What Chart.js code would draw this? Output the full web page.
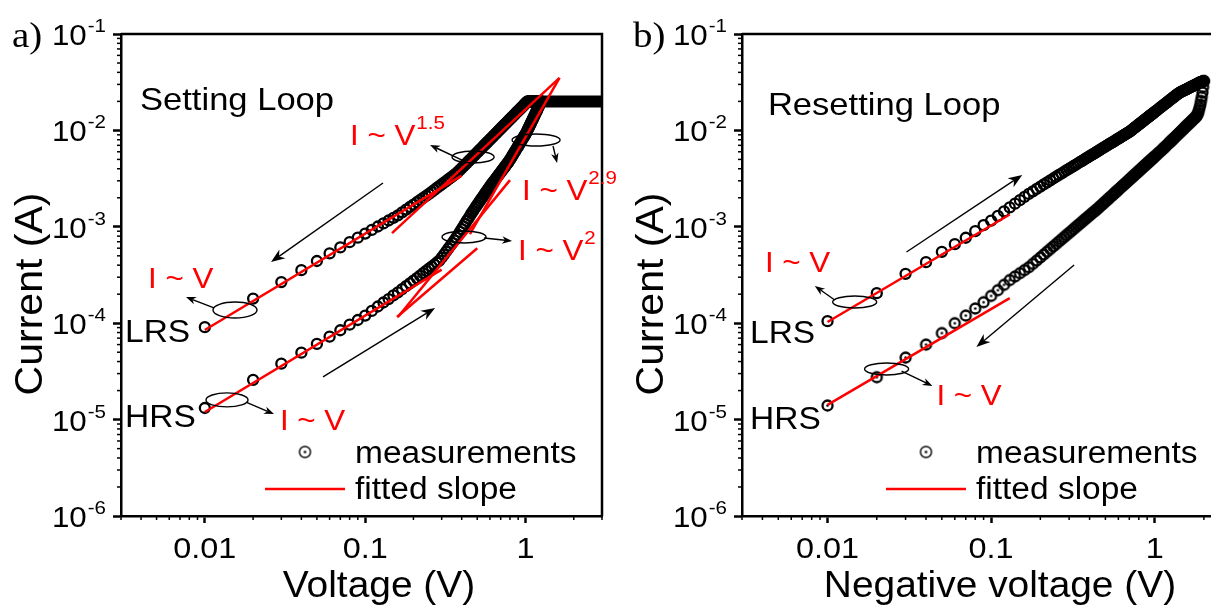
<!DOCTYPE html>
<html>
<head>
<meta charset="utf-8">
<script src="https://cdn.jsdelivr.net/npm/chart.js@4.4.1/dist/chart.umd.min.js"></script>
<style>
  html, body { margin: 0; padding: 0; background: #fff; overflow: hidden; }
  #wrap { position: relative; width: 1211px; height: 610px; overflow: hidden; }
  #panelA { position: absolute; left: 0; top: 0; }
  #panelB { position: absolute; left: 620px; top: 0; }
</style>
</head>
<body>
<div id="wrap">
  <canvas id="panelA" width="620" height="610"></canvas>
  <canvas id="panelB" width="620" height="610"></canvas>
</div>
<script>
// ---- data ----
// a) setting loop: sweep voltages (V) and currents (A)
const voltsA = [0.01,0.02,0.03,0.04,0.05,0.06,0.07,0.08,0.09,0.10,
  0.11,0.12,0.13,0.14,0.15,0.16,0.17,0.18,0.19,0.20,
  0.21,0.22,0.23,0.24,0.25,0.26,0.27,0.28,0.29,0.30,
  0.31,0.32,0.33,0.34,0.35,0.36,0.37,0.38,0.39,0.40,
  0.41,0.42,0.43,0.44,0.45,0.46,0.47,0.48,0.49,0.50,
  0.51,0.52,0.53,0.54,0.55,0.56,0.57,0.58,0.59,0.60,
  0.61,0.62,0.63,0.64,0.65,0.66,0.67,0.68,0.69,0.70,
  0.71,0.72,0.73,0.74,0.75,0.76,0.77,0.78,0.79,0.80,
  0.81,0.82,0.83,0.84,0.85,0.86,0.87,0.88,0.89,0.90,
  0.91,0.92,0.93,0.94,0.95,0.96,0.97,0.98,0.99,1.00,
  1.01,1.02,1.03,1.04,1.05,1.06,1.07,1.08,1.09,1.10,
  1.11,1.12,1.13,1.14,1.15,1.16,1.17,1.18,1.19,1.20,
  1.21,1.22,1.23,1.24,1.25];
const setHRS = [1.32e-5,2.58e-5,3.80e-5,4.95e-5,6.10e-5,7.25e-5,8.45e-5,9.65e-5,1.08e-4,1.20e-4,
  1.34e-4,1.49e-4,1.64e-4,1.78e-4,1.94e-4,2.09e-4,2.26e-4,2.42e-4,2.59e-4,2.77e-4,
  2.94e-4,3.12e-4,3.30e-4,3.49e-4,3.68e-4,3.87e-4,4.06e-4,4.26e-4,4.46e-4,4.78e-4,
  5.15e-4,5.54e-4,5.94e-4,6.36e-4,6.79e-4,7.24e-4,7.73e-4,8.26e-4,8.85e-4,9.47e-4,
  1.01e-3,1.08e-3,1.15e-3,1.22e-3,1.295e-3,1.375e-3,1.45e-3,1.53e-3,1.61e-3,1.69e-3,
  1.775e-3,1.86e-3,1.945e-3,2.03e-3,2.125e-3,2.22e-3,2.315e-3,2.41e-3,2.515e-3,2.62e-3,
  2.72e-3,2.82e-3,2.92e-3,3.02e-3,3.125e-3,3.23e-3,3.34e-3,3.45e-3,3.565e-3,3.68e-3,
  3.795e-3,3.91e-3,4.03e-3,4.15e-3,4.28e-3,4.41e-3,4.54e-3,4.67e-3,4.82e-3,4.97e-3,
  5.14e-3,5.32e-3,5.50e-3,5.68e-3,5.87e-3,6.06e-3,6.255e-3,6.45e-3,6.655e-3,6.86e-3,
  7.075e-3,7.29e-3,7.51e-3,7.73e-3,7.96e-3,8.19e-3,8.425e-3,8.66e-3,8.91e-3,9.16e-3,
  9.40e-3,9.73e-3,1.007e-2,1.041e-2,1.077e-2,1.113e-2,1.150e-2,1.188e-2,1.227e-2,1.267e-2,
  1.308e-2,1.350e-2,1.393e-2,1.436e-2,1.481e-2,1.527e-2,1.573e-2,1.621e-2,1.669e-2,1.718e-2,
  1.77e-2,1.83e-2,1.89e-2,1.95e-2,2.0e-2];
const setLRS = [9.1e-5,1.80e-4,2.67e-4,3.55e-4,4.42e-4,5.30e-4,6.11e-4,6.92e-4,7.71e-4,8.50e-4,
  9.29e-4,1.007e-3,1.085e-3,1.162e-3,1.239e-3,1.316e-3,1.413e-3,1.508e-3,1.604e-3,1.70e-3,
  1.798e-3,1.896e-3,1.995e-3,2.094e-3,2.193e-3,2.306e-3,2.416e-3,2.528e-3,2.64e-3,2.753e-3,
  2.866e-3,2.983e-3,3.098e-3,3.216e-3,3.333e-3,3.452e-3,3.588e-3,3.73e-3,3.894e-3,4.064e-3,
  4.234e-3,4.409e-3,4.585e-3,4.765e-3,4.946e-3,5.133e-3,5.32e-3,5.51e-3,5.706e-3,5.906e-3,
  6.106e-3,6.31e-3,6.516e-3,6.726e-3,6.936e-3,7.151e-3,7.368e-3,7.589e-3,7.81e-3,8.035e-3,
  8.26e-3,8.494e-3,8.73e-3,8.962e-3,9.20e-3,9.44e-3,9.685e-3,9.93e-3,1.018e-2,1.043e-2,
  1.069e-2,1.094e-2,1.12e-2,1.146e-2,1.172e-2,1.198e-2,1.225e-2,1.252e-2,1.28e-2,1.307e-2,
  1.335e-2,1.363e-2,1.391e-2,1.419e-2,1.448e-2,1.477e-2,1.506e-2,1.535e-2,1.565e-2,1.595e-2,
  1.625e-2,1.655e-2,1.686e-2,1.716e-2,1.747e-2,1.778e-2,1.81e-2,1.841e-2,1.874e-2,1.906e-2,
  1.94e-2,1.97e-2,2.0e-2,2.0e-2,2.0e-2,2.0e-2,2.0e-2,2.0e-2,2.0e-2,2.0e-2,
  2.0e-2,2.0e-2,2.0e-2,2.0e-2,2.0e-2,2.0e-2,2.0e-2,2.0e-2,2.0e-2,2.0e-2,
  2.0e-2,2.0e-2,2.0e-2,2.0e-2,2.0e-2];
// compliance current plateau
const complianceV = [1.05, 3.5];
const complianceI = [0.02, 0.02];

// b) resetting loop
const voltsB = [0.01,0.02,0.03,0.04,0.05,0.06,0.07,0.08,0.09,0.10,
  0.11,0.12,0.13,0.14,0.15,0.16,0.17,0.18,0.19,0.20,
  0.21,0.22,0.23,0.24,0.25,0.26,0.27,0.28,0.29,0.30,
  0.31,0.32,0.33,0.34,0.35,0.36,0.37,0.38,0.39,0.40,
  0.41,0.42,0.43,0.44,0.45,0.46,0.47,0.48,0.49,0.50,
  0.51,0.52,0.53,0.54,0.55,0.56,0.57,0.58,0.59,0.60,
  0.61,0.62,0.63,0.64,0.65,0.66,0.67,0.68,0.69,0.70,
  0.71,0.72,0.73,0.74,0.75,0.76,0.77,0.78,0.79,0.80,
  0.81,0.82,0.83,0.84,0.85,0.86,0.87,0.88,0.89,0.90,
  0.91,0.92,0.93,0.94,0.95,0.96,0.97,0.98,0.99,1.00,
  1.02,1.04,1.06,1.08,1.10,1.12,1.14,1.16,1.18,1.20,
  1.22,1.24,1.26,1.28,1.30,1.32,1.34,1.36,1.38,1.40,
  1.42,1.44,1.46,1.48,1.50,1.52,1.54,1.56,1.58,1.60,
  1.62,1.64,1.66,1.68,1.70,1.72,1.74,1.76,1.78,1.80,
  1.82,1.84,1.86,1.88,1.90,1.92,1.94,1.96,1.98,2.00];
const resetLRS = [1.05e-4,2.05e-4,3.25e-4,4.3e-4,5.5e-4,6.6e-4,7.7e-4,9.0e-4,1.04e-3,1.16e-3,
  1.30e-3,1.444e-3,1.589e-3,1.737e-3,1.887e-3,2.039e-3,2.193e-3,2.336e-3,2.474e-3,2.613e-3,
  2.751e-3,2.89e-3,3.029e-3,3.169e-3,3.309e-3,3.45e-3,3.59e-3,3.726e-3,3.865e-3,4.003e-3,
  4.142e-3,4.281e-3,4.42e-3,4.56e-3,4.70e-3,4.84e-3,4.98e-3,5.119e-3,5.26e-3,5.4e-3,
  5.54e-3,5.68e-3,5.821e-3,5.962e-3,6.103e-3,6.244e-3,6.386e-3,6.528e-3,6.669e-3,6.81e-3,
  6.952e-3,7.094e-3,7.236e-3,7.378e-3,7.52e-3,7.662e-3,7.804e-3,7.947e-3,8.09e-3,8.232e-3,
  8.375e-3,8.517e-3,8.66e-3,8.803e-3,8.946e-3,9.089e-3,9.233e-3,9.377e-3,9.516e-3,9.655e-3,
  9.84e-3,1.002e-2,1.021e-2,1.04e-2,1.059e-2,1.077e-2,1.096e-2,1.115e-2,1.134e-2,1.153e-2,
  1.173e-2,1.192e-2,1.211e-2,1.23e-2,1.25e-2,1.27e-2,1.29e-2,1.309e-2,1.329e-2,1.349e-2,
  1.369e-2,1.389e-2,1.409e-2,1.429e-2,1.449e-2,1.469e-2,1.49e-2,1.511e-2,1.532e-2,1.552e-2,
  1.594e-2,1.635e-2,1.677e-2,1.719e-2,1.761e-2,1.804e-2,1.847e-2,1.890e-2,1.933e-2,1.977e-2,
  2.021e-2,2.066e-2,2.110e-2,2.155e-2,2.2e-2,2.245e-2,2.290e-2,2.336e-2,2.381e-2,2.427e-2,
  2.458e-2,2.489e-2,2.52e-2,2.55e-2,2.58e-2,2.609e-2,2.638e-2,2.668e-2,2.697e-2,2.727e-2,
  2.756e-2,2.785e-2,2.815e-2,2.844e-2,2.873e-2,2.902e-2,2.931e-2,2.959e-2,2.988e-2,3.017e-2,
  3.046e-2,3.075e-2,3.104e-2,3.133e-2,3.161e-2,3.185e-2,3.208e-2,3.226e-2,3.238e-2,3.25e-2];
const resetHRS = [1.40e-5,2.75e-5,4.40e-5,6.0e-5,7.9e-5,1.0e-4,1.2e-4,1.42e-4,1.65e-4,1.92e-4,
  2.2e-4,2.5e-4,2.8e-4,3.05e-4,3.30e-4,3.55e-4,3.80e-4,4.13e-4,4.46e-4,4.81e-4,
  5.16e-4,5.52e-4,5.89e-4,6.26e-4,6.64e-4,7.03e-4,7.43e-4,7.83e-4,8.24e-4,8.65e-4,
  9.07e-4,9.50e-4,9.94e-4,1.038e-3,1.082e-3,1.127e-3,1.173e-3,1.219e-3,1.266e-3,1.313e-3,
  1.361e-3,1.41e-3,1.455e-3,1.50e-3,1.554e-3,1.608e-3,1.662e-3,1.717e-3,1.773e-3,1.829e-3,
  1.886e-3,1.944e-3,2.002e-3,2.061e-3,2.121e-3,2.181e-3,2.241e-3,2.302e-3,2.364e-3,2.427e-3,
  2.49e-3,2.553e-3,2.618e-3,2.682e-3,2.748e-3,2.813e-3,2.88e-3,2.946e-3,3.014e-3,3.082e-3,
  3.151e-3,3.219e-3,3.289e-3,3.359e-3,3.43e-3,3.501e-3,3.573e-3,3.645e-3,3.718e-3,3.79e-3,
  3.864e-3,3.938e-3,4.013e-3,4.088e-3,4.165e-3,4.241e-3,4.318e-3,4.394e-3,4.472e-3,4.55e-3,
  4.629e-3,4.707e-3,4.787e-3,4.867e-3,4.948e-3,5.028e-3,5.11e-3,5.191e-3,5.274e-3,5.356e-3,
  5.525e-3,5.694e-3,5.864e-3,6.037e-3,6.209e-3,6.393e-3,6.578e-3,6.768e-3,6.963e-3,7.158e-3,
  7.358e-3,7.559e-3,7.762e-3,7.968e-3,8.174e-3,8.386e-3,8.597e-3,8.811e-3,9.028e-3,9.244e-3,
  9.466e-3,9.687e-3,9.912e-3,1.014e-2,1.037e-2,1.060e-2,1.083e-2,1.107e-2,1.130e-2,1.154e-2,
  1.178e-2,1.202e-2,1.226e-2,1.251e-2,1.276e-2,1.301e-2,1.326e-2,1.351e-2,1.376e-2,1.40e-2,
  1.45e-2,1.51e-2,1.60e-2,1.72e-2,1.85e-2,2.02e-2,2.22e-2,2.48e-2,2.82e-2,3.25e-2];

// fitted slope segments (end points)
const fitA = [
  { v: [0.01, 0.4],    i: [8.5e-5, 3.4e-3] },   // LRS, I ~ V
  { v: [0.147, 1.63],  i: [8.6e-4, 3.5e-2] },   // LRS, I ~ V^1.5
  { v: [0.01, 0.3],    i: [1.2e-5, 3.6e-4] },   // HRS, I ~ V
  { v: [0.158, 0.5],   i: [1.16e-4, 6.0e-4] },  // HRS knee
  { v: [0.16, 0.8],    i: [1.16e-4, 3.05e-3] }, // HRS, I ~ V^2
  { v: [0.45, 1.63],   i: [8.4e-4, 3.5e-2] }    // HRS, I ~ V^2.9
];
const fitB = [
  { v: [0.01, 0.13], i: [1.03e-4, 1.34e-3] },
  { v: [0.01, 0.13], i: [1.42e-5, 1.82e-4] }
];

// axis ticks
const xMajor = [0.01, 0.1, 1];
const xLabels = ['0.01', '0.1', '1'];
const yMajor = [1e-6, 1e-5, 1e-4, 1e-3, 1e-2, 1e-1];
const yExp = ['-6', '-5', '-4', '-3', '-2', '-1'];

// annotations, placed in data coordinates [V, I]
const notesA = {
  panel: 'a)', title: 'Setting Loop', titleAt: [0.00394, 0.0163], xTitle: 'Voltage (V)',
  powers: [['', 0.00442, 2.32e-4], ['1.5', 0.0805, 7.06e-3], ['2.9', 0.952, 1.9e-3],
           ['2', 0.899, 4.53e-4], ['', 0.0294, 7.8e-6]],
  states: [['LRS', 0.00318, 6.38e-5], ['HRS', 0.00318, 8.38e-6]],
  ellipses: [[0.01542, 1.37e-4, 22, 8], [0.01375, 1.6e-5, 21, 7], [0.471, 5.3e-3, 21, 6],
             [1.164, 7.95e-3, 24, 6], [0.4137, 7.84e-4, 22, 6]],
  arrows: [[0.1292, 2.85e-3, 0.02587, 4.31e-4, 14], [0.0546, 2.77e-5, 0.2729, 1.44e-4, 14],
           [0.0114, 1.44e-4, 0.00763, 1.87e-4, 10], [0.01806, 1.52e-5, 0.027, 1.14e-5, 10],
           [0.402, 4.93e-3, 0.2539, 7.05e-3, 10], [1.485, 6.89e-3, 1.574, 4.59e-3, 10],
           [0.5512, 7.65e-4, 0.8245, 7.12e-4, 10]]
};
const notesB = {
  panel: 'b)', title: 'Resetting Loop', titleAt: [0.00432, 0.01445], xTitle: 'Negative voltage (V)',
  powers: [['', 0.00414, 3.4e-4], ['', 0.04634, 1.42e-5]],
  states: [['LRS', 0.00336, 6.24e-5], ['HRS', 0.00336, 7.99e-6]],
  ellipses: [[0.01466, 1.66e-4, 22, 6], [0.02297, 3.35e-5, 22, 6]],
  arrows: [[0.01107, 1.74e-4, 0.00836, 2.43e-4, 10], [0.02835, 3.19e-5, 0.0438, 2.23e-5, 10],
           [0.0304, 5.48e-4, 0.155, 3.45e-3, 14], [0.3218, 4.02e-4, 0.0813, 5.66e-5, 14]]
};

// ---- drawing helpers ----
const FONT = "'Liberation Sans', Arial, sans-serif";
const SERIF = "'Liberation Serif', 'Times New Roman', serif";
const SX = 1.08;   // the figure's lettering is slightly wide
const RED = '#ff0000';
const CLEAR = 'rgba(255,255,255,0)';

function measure(ctx, str, size, family) {
  ctx.save();
  ctx.font = size + 'px ' + (family || FONT);
  const w = ctx.measureText(str).width * SX;
  ctx.restore();
  return w;
}

function text(ctx, str, x, y, size, color, align, family) {
  const w = measure(ctx, str, size, family);
  let x0 = x;
  if (align === 'center') x0 = x - w / 2;
  else if (align === 'right') x0 = x - w;
  ctx.save();
  ctx.font = size + 'px ' + (family || FONT);
  ctx.fillStyle = color || '#000';
  ctx.textAlign = 'left';
  ctx.textBaseline = 'alphabetic';
  ctx.translate(x0, y);
  ctx.scale(SX, 1);
  ctx.fillText(str, 0, 0);
  ctx.restore();
  return w;
}

function arrow(ctx, x1, y1, x2, y2, len) {
  const a = Math.atan2(y2 - y1, x2 - x1);
  const c = Math.cos(a), s = Math.sin(a);
  const w = len * 0.38;
  ctx.beginPath();
  ctx.moveTo(x1, y1);
  ctx.lineTo(x2 - c * len * 0.7, y2 - s * len * 0.7);
  ctx.stroke();
  ctx.beginPath();
  ctx.moveTo(x2, y2);
  ctx.lineTo(x2 - c * len + s * w, y2 - s * len - c * w);
  ctx.lineTo(x2 - c * len * 0.7, y2 - s * len * 0.7);
  ctx.lineTo(x2 - c * len - s * w, y2 - s * len + c * w);
  ctx.closePath();
  ctx.fill();
}

// open circle with a centre dot (the "measurements" symbol)
function dotCircle(r, lw, fill) {
  const cv = document.createElement('canvas');
  const size = Math.ceil(r * 2 + lw + 2);
  cv.width = cv.height = size;
  const g = cv.getContext('2d');
  g.beginPath();
  g.arc(size / 2, size / 2, r, 0, Math.PI * 2);
  if (fill) { g.fillStyle = fill; g.fill(); }
  g.lineWidth = lw;
  g.strokeStyle = '#000';
  g.stroke();
  g.beginPath();
  g.arc(size / 2, size / 2, 1.3, 0, Math.PI * 2);
  g.fillStyle = '#000';
  g.fill();
  return cv;
}

// frame, minor ticks, tick labels, titles, legend and notes
const decor = {
  id: 'decor',
  afterDraw(chart, args, opts) {
    const { ctx, chartArea: ca, scales: { x, y } } = chart;
    const n = opts.notes;
    ctx.save();
    ctx.strokeStyle = '#000';
    ctx.fillStyle = '#000';
    ctx.lineWidth = 2.5;
    ctx.beginPath();
    ctx.moveTo(ca.left, ca.top);
    ctx.lineTo(ca.right, ca.top);
    ctx.lineTo(ca.right, ca.bottom);
    ctx.stroke();

    // minor ticks
    ctx.lineWidth = 1.5;
    for (let e = -3; e <= 0; e++) {
      for (let m = 2; m <= 9; m++) {
        const v = m * Math.pow(10, e);
        if (v < x.min * 0.999 || v > x.max * 1.001) continue;
        const px = x.getPixelForValue(v);
        ctx.beginPath(); ctx.moveTo(px, ca.bottom); ctx.lineTo(px, ca.bottom + 4); ctx.stroke();
      }
    }
    for (let e = -6; e <= -2; e++) {
      for (let m = 2; m <= 9; m++) {
        const py = y.getPixelForValue(m * Math.pow(10, e));
        ctx.beginPath(); ctx.moveTo(ca.left - 4, py); ctx.lineTo(ca.left, py); ctx.stroke();
      }
    }

    // tick labels
    xMajor.forEach((v, k) => text(ctx, xLabels[k], x.getPixelForValue(v), ca.bottom + 42, 30, '#000', 'center'));
    yMajor.forEach((v, k) => {
      const py = y.getPixelForValue(v);
      const right = ca.left - 15;
      const ws = measure(ctx, yExp[k], 19);
      text(ctx, yExp[k], right - ws, py - 2, 19);
      text(ctx, '10', right - ws - 1, py + 11, 29, '#000', 'right');
    });

    // axis titles
    text(ctx, n.xTitle, ca.left + 258, 597, 36, '#000', 'center');
    ctx.save();
    ctx.translate(ca.left - 79, 294);
    ctx.rotate(-Math.PI / 2);
    text(ctx, 'Current (A)', 0, 0, 38, '#000', 'center');
    ctx.restore();

    // panel letter and loop name
    text(ctx, n.panel, ca.left - 109, 47, 36, '#000', 'left', SERIF);
    const P = (v, i) => [x.getPixelForValue(v), y.getPixelForValue(i)];
    const tp = P(n.titleAt[0], n.titleAt[1]);
    text(ctx, n.title, tp[0], tp[1], 32);

    n.states.forEach(s => { const q = P(s[1], s[2]); text(ctx, s[0], q[0], q[1], 31); });
    n.powers.forEach(s => {
      const q = P(s[1], s[2]);
      const w = text(ctx, 'I ~ V', q[0], q[1], 29, RED);
      if (s[0]) text(ctx, s[0], q[0] + w + 1, q[1] - 16, 19, RED);
    });

    ctx.lineWidth = 1.4;
    n.ellipses.forEach(el => {
      const q = P(el[0], el[1]);
      ctx.beginPath();
      ctx.ellipse(q[0], q[1], el[2], el[3], 0, 0, Math.PI * 2);
      ctx.stroke();
    });
    n.arrows.forEach(ar => {
      const a = P(ar[0], ar[1]), b = P(ar[2], ar[3]);
      arrow(ctx, a[0], a[1], b[0], b[1], ar[4]);
    });

    // legend
    const lx = ca.left, ly = ca.top;
    ctx.drawImage(opts.symbol, lx + 184 - opts.symbol.width / 2, ly + 418 - opts.symbol.height / 2);
    text(ctx, 'measurements', lx + 234, ly + 429, 31);
    ctx.strokeStyle = RED;
    ctx.lineWidth = 2.5;
    ctx.beginPath(); ctx.moveTo(lx + 144, ly + 455); ctx.lineTo(lx + 224, ly + 455); ctx.stroke();
    text(ctx, 'fitted slope', lx + 234, ly + 465, 31);
    ctx.restore();
  }
};

const pts = (vs, is) => vs.map((v, k) => ({ x: v, y: is[k] }));

function markers(vs, is, style) {
  return {
    data: pts(vs, is), showLine: false, order: 2,
    pointStyle: style || 'circle', pointRadius: 5, pointBorderWidth: 2.3,
    pointBorderColor: '#000', pointBackgroundColor: CLEAR
  };
}

function fitLine(f) {
  return {
    data: pts(f.v, f.i), showLine: true, order: 0,
    borderColor: RED, borderWidth: 2.5, pointRadius: 0
  };
}

function makeChart(id, datasets, notes, yWidth, padRight) {
  return new Chart(document.getElementById(id), {
    type: 'scatter',
    data: { datasets: datasets },
    options: {
      responsive: false,
      animation: false,
      events: [],
      layout: { padding: { top: 34, right: padRight, left: 0, bottom: 0 } },
      plugins: { legend: { display: false }, tooltip: { enabled: false },
                 decor: { notes: notes, symbol: dotCircle(5.5, 1.4, '#fff') } },
      scales: {
        x: {
          type: 'logarithmic', min: 0.003, max: 3,
          afterBuildTicks: s => { s.ticks = xMajor.map(v => ({ value: v })); },
          afterFit: s => { s.height = 94; },
          ticks: { display: false },
          grid: { drawOnChartArea: false, drawTicks: true, tickLength: 7, tickWidth: 2.5, tickColor: '#000' },
          border: { display: true, color: '#000', width: 2.5 }
        },
        y: {
          type: 'logarithmic', min: 1e-6, max: 0.1,
          afterBuildTicks: s => { s.ticks = yMajor.map(v => ({ value: v })); },
          afterFit: s => { s.width = yWidth; },
          ticks: { display: false },
          grid: { drawOnChartArea: false, drawTicks: true, tickLength: 8, tickWidth: 2.5, tickColor: '#000' },
          border: { display: true, color: '#000', width: 2.5 }
        }
      }
    },
    plugins: [decor]
  });
}

const dsA = [
  ...fitA.map(fitLine),
  markers(voltsA, setHRS),
  markers(voltsA, setLRS),
  { data: pts(complianceV, complianceI), showLine: true, order: 3, borderColor: '#000',
    borderWidth: 12, borderCapStyle: 'round', pointRadius: 0 }
];
const dsB = [
  ...fitB.map(fitLine),
  markers(voltsB, resetHRS, dotCircle(5, 2.3)),
  markers(voltsB, resetLRS)
];

makeChart('panelA', dsA, notesA, 121, 18);
makeChart('panelB', dsB, notesB, 122, 6);
</script>
</body>
</html>
